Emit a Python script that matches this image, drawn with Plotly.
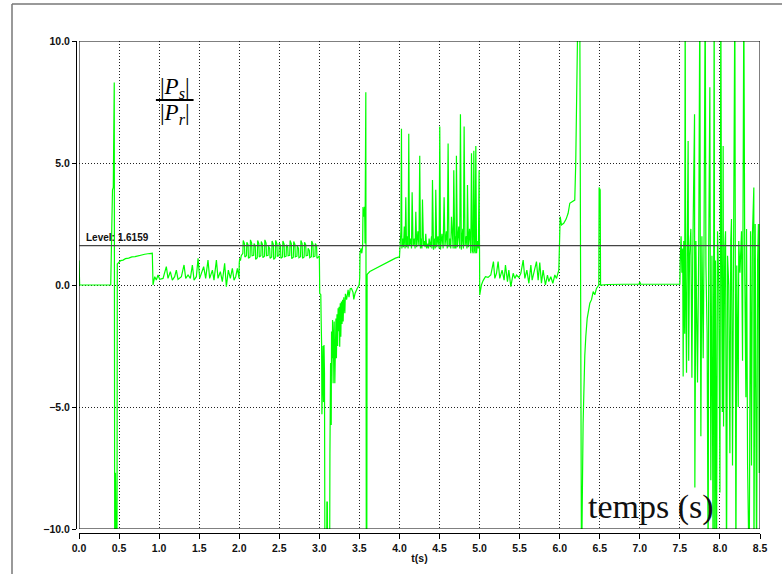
import plotly.graph_objects as go

# ---------------- data ----------------
t_a = [0.0, 0.008, 0.396, 0.402, 0.410, 0.418, 0.428, 0.436, 0.440, 0.446, 0.455, 0.468, 0.474, 0.478,
       0.49, 0.50, 0.52, 0.55, 0.58, 0.62, 0.66, 0.70, 0.74, 0.78, 0.82, 0.86, 0.90, 0.915]
v_a = [1.0, 0.0, 0.0, 1.15, 1.15, 3.9, 4.0, 8.3, 8.3, -12, -7.7, -12, -12, 0.86,
       0.9, 0.95, 1.0, 1.02, 1.08, 1.1, 1.15, 1.16, 1.2, 1.22, 1.26, 1.28, 1.3, 1.3]

t_b = [0.924, 0.945, 0.965, 0.986, 1.007, 1.049, 1.090, 1.111, 1.140, 1.165, 1.194, 1.215, 1.236, 1.278,
       1.311, 1.332, 1.361, 1.390, 1.415, 1.436, 1.465, 1.486, 1.506, 1.527, 1.556, 1.581, 1.610, 1.631,
       1.665, 1.685, 1.715, 1.735, 1.764, 1.789, 1.818, 1.839, 1.864, 1.889, 1.914, 1.935, 1.956, 1.977, 1.998]
v_b = [0.0, 0.34, 0.2, 0.41, 0.23, 0.27, 0.75, 0.27, 0.55, 0.2, 0.34, 0.61, 0.23, 0.34,
       0.82, 0.27, 0.41, 0.27, 0.82, 0.2, 0.34, 1.09, 0.27, 0.48, 0.75, 0.27, 1.02, 0.27,
       0.61, 0.2, 1.02, 0.27, 0.55, 0.14, 0.89, -0.07, 0.61, 0.27, 0.68, 0.2, 0.34, 0.68, 0.27]

t_c = [2.000, 2.006, 2.015, 2.025, 2.045,
       2.050, 2.065, 2.070, 2.090,
       2.095, 2.110, 2.115, 2.135,
       2.140, 2.155, 2.160, 2.180,
       2.185, 2.200, 2.205, 2.225,
       2.230, 2.245, 2.250, 2.270,
       2.275, 2.290, 2.295, 2.315,
       2.320, 2.335, 2.340, 2.360,
       2.365, 2.380, 2.385, 2.405,
       2.410, 2.425, 2.430, 2.450,
       2.455, 2.470, 2.475, 2.495,
       2.500, 2.515, 2.520, 2.540,
       2.545, 2.560, 2.565, 2.585,
       2.590, 2.605, 2.610, 2.630,
       2.635, 2.650, 2.655, 2.675,
       2.680, 2.695, 2.700, 2.720,
       2.725, 2.740, 2.745, 2.765,
       2.770, 2.785, 2.790, 2.810,
       2.815, 2.830, 2.835, 2.855,
       2.860, 2.875, 2.880, 2.900,
       2.905, 2.920, 2.925, 2.945,
       2.950, 2.965, 2.970, 2.990]
v_c = [0.9, 1.09, 1.0, 1.2, 1.3,
       1.82, 1.7, 1.15, 1.2,
       1.75, 1.65, 1.1, 1.15,
       1.85, 1.72, 1.2, 1.22,
       1.7, 1.6, 1.05, 1.12,
       1.82, 1.7, 1.15, 1.2,
       1.78, 1.66, 1.12, 1.18,
       1.85, 1.72, 1.2, 1.22,
       1.6, 1.5, 1.1, 1.15,
       1.8, 1.68, 1.05, 1.12,
       1.83, 1.7, 1.18, 1.2,
       1.72, 1.62, 1.1, 1.15,
       1.8, 1.68, 1.15, 1.18,
       1.65, 1.55, 1.2, 1.22,
       1.82, 1.7, 1.08, 1.14,
       1.78, 1.66, 1.15, 1.18,
       1.6, 1.5, 1.12, 1.16,
       1.82, 1.7, 1.1, 1.15,
       1.75, 1.64, 1.2, 1.22,
       1.5, 1.42, 1.12, 1.16,
       1.8, 1.68, 1.15, 1.18,
       1.7, 1.6, 1.1, 1.15]

t_d = [3.000, 3.005, 3.018, 3.022, 3.028, 3.032, 3.036, 3.040, 3.046, 3.052, 3.058, 3.064, 3.070,
       3.090, 3.094, 3.100, 3.104, 3.128, 3.132, 3.140, 3.148, 3.152, 3.160, 3.165, 3.172, 3.178,
       3.185, 3.193, 3.200, 3.207, 3.213, 3.220, 3.228, 3.234, 3.240, 3.247, 3.254, 3.261, 3.268,
       3.275, 3.283, 3.290, 3.297, 3.305, 3.318, 3.325, 3.340, 3.359, 3.370, 3.385, 3.401, 3.420,
       3.430, 3.445, 3.472, 3.497]
v_d = [1.2, -0.34, -0.4, -1.37, -2.4, -5.3, -4.0, -5.1, -2.5, -4.8, -2.46, -3.6, -12,
       -12, -8.9, -8.9, -12, -12, -6.9, -3.2, -5.74, -1.91, -3.0, -1.43, -4.03, -2.2,
       -1.5, -4.03, -1.6, -1.37, -3.0, -1.2, -2.5, -0.95, -1.9, -0.89, -2.53, -0.75, -2.12,
       -0.68, -1.6, -0.6, -1.5, -0.5, -1.16, -0.36, -0.6, -0.2, -0.5, -0.15, -0.14, -0.3,
       -0.59, -0.35, -0.14, 0.0]

t_e = [3.504, 3.508, 3.520, 3.530, 3.540, 3.545, 3.555, 3.565, 3.570, 3.575, 3.580, 3.586, 3.592,
       3.596, 3.60, 3.63, 3.66, 3.70, 3.75, 3.80, 3.85, 3.90, 3.95, 4.000]
v_e = [0.3, 1.3, 1.5, 1.3, 1.6, 3.2, 2.8, 3.2, 1.7, 7.9, 7.9, -12, -12,
       0.41, 0.45, 0.55, 0.6, 0.68, 0.75, 0.86, 0.95, 1.02, 1.1, 1.16]

t_f = [4.010, 4.018, 4.025, 4.030, 4.040, 4.050, 4.060, 4.070, 4.079, 4.088, 4.100, 4.108, 4.116,
       4.125, 4.140, 4.150, 4.158, 4.170, 4.185, 4.195, 4.204, 4.215, 4.230, 4.243, 4.253, 4.262,
       4.275, 4.280, 4.287, 4.300, 4.315, 4.320, 4.328, 4.340, 4.355, 4.362, 4.370, 4.385, 4.400,
       4.405, 4.412, 4.425, 4.440, 4.447, 4.453, 4.465, 4.480, 4.495, 4.503, 4.512, 4.530, 4.545,
       4.557, 4.568, 4.585, 4.597, 4.607, 4.618, 4.632, 4.640, 4.649, 4.660, 4.670, 4.678, 4.690,
       4.700, 4.705, 4.711, 4.722, 4.740, 4.752, 4.761, 4.772, 4.790, 4.798, 4.807, 4.818, 4.835,
       4.842, 4.849, 4.860, 4.875, 4.890, 4.899, 4.910, 4.920, 4.928, 4.938, 4.945, 4.953, 4.962,
       4.975, 4.985, 4.994, 5.000]
v_f = [1.6, 2.2, 6.4, 1.5, 1.9, 1.55, 2.4, 1.5, 3.6, 1.55, 2.0, 1.5, 6.2,
       1.6, 1.9, 1.5, 3.8, 1.6, 1.9, 1.5, 3.0, 1.55, 2.2, 1.6, 5.3, 1.5,
       1.9, 1.5, 3.5, 1.6, 1.8, 1.55, 2.1, 1.5, 1.7, 1.5, 1.9, 1.55, 2.0,
       1.5, 4.3, 1.45, 1.9, 1.5, 3.9, 1.55, 2.0, 1.5, 6.5, 1.45, 2.1, 1.5,
       3.6, 1.6, 2.2, 1.5, 5.8, 1.55, 1.9, 1.5, 2.8, 1.6, 1.5, 4.7, 1.5,
       2.0, 1.5, 5.3, 1.55, 2.4, 1.5, 7.0, 1.45, 2.3, 1.5, 6.5, 1.6, 2.0,
       1.5, 4.1, 1.55, 2.3, 1.3, 5.4, 1.4, 1.3, 5.5, 1.4, 1.3, 5.7, 1.3,
       1.8, 1.5, 4.7, 1.3]

t_g = [5.002, 5.023, 5.044, 5.073, 5.106, 5.140, 5.173, 5.190, 5.211, 5.231, 5.252, 5.281, 5.306,
       5.323, 5.348, 5.365, 5.390, 5.419, 5.440, 5.461, 5.490, 5.515, 5.544, 5.565, 5.590, 5.615,
       5.640, 5.656, 5.681, 5.710, 5.731, 5.751, 5.772, 5.793, 5.822, 5.847, 5.864, 5.889, 5.914,
       5.939, 5.960, 5.989]
v_g = [-0.41, 0.0, 0.18, 0.34, 0.31, 0.41, 0.96, 0.27, 0.48, 0.96, 0.27, 0.61, 0.2,
       0.82, 0.14, 0.61, -0.07, 0.48, 0.27, 0.41, 0.31, 0.48, 1.02, 0.27, 0.61, 0.07,
       0.82, 0.2, 0.55, 0.96, 0.2, 0.92, 0.07, 0.61, 0.0, 0.41, 0.14, 0.34, 0.07,
       0.41, 0.27, 0.61]

t_h = [6.006, 6.022, 6.050, 6.080, 6.105, 6.126, 6.150, 6.188, 6.200, 6.209, 6.230, 6.250, 6.263,
       6.272, 6.292, 6.300, 6.313, 6.326, 6.343, 6.376, 6.397, 6.418, 6.438, 6.459, 6.488, 6.492,
       6.505, 6.510, 6.600, 6.800, 6.990, 7.000, 7.010, 7.200, 7.400, 7.500]
v_h = [2.8, 2.46, 2.53, 2.7, 2.94, 3.35, 3.4, 3.48, 4.99, 6.49, 12, 12, -12,
       -12, -5.67, -4.4, -2.9, -2.1, -1.37, -0.75, -0.6, -0.27, -0.4, -0.14, 0.0, 4.0,
       3.9, 0.0, 0.02, 0.03, 0.03, 0.12, 0.03, 0.03, 0.03, 0.03]

t_i = [7.505, 7.515, 7.525, 7.535, 7.541, 7.548, 7.560, 7.566, 7.572, 7.583, 7.592, 7.603, 7.610,
       7.620, 7.637, 7.650, 7.660, 7.683, 7.687, 7.700, 7.707, 7.720, 7.735, 7.749, 7.755, 7.762,
       7.775, 7.791, 7.800, 7.816, 7.825, 7.840, 7.853, 7.860, 7.874, 7.880, 7.886, 7.900, 7.915,
       7.928, 7.936, 7.945, 7.957, 7.970, 7.985, 8.000, 8.011, 8.020, 8.030, 8.040, 8.045, 8.060,
       8.070, 8.082, 8.095, 8.110, 8.124, 8.135, 8.144, 8.157, 8.174, 8.186, 8.199, 8.210, 8.228,
       8.235, 8.250, 8.269, 8.282, 8.298, 8.310, 8.324, 8.332, 8.345, 8.365, 8.375, 8.382, 8.394,
       8.405, 8.423, 8.424, 8.440, 8.457, 8.470, 8.480, 8.490, 8.500]
v_i = [1.0, 2.0, 0.5, 1.5, -3.75, 1.8, -2.0, 12, 0.3, -3.6, 1.5, 5.9, -3.1,
       1.2, 2.3, -3.8, 1.0, 7.0, -8.3, 1.8, -0.5, -4.0, 1.5, 12, 0.5, -6.2,
       2.0, -3.0, 1.0, 12, 0.8, -2.0, -12, 1.5, 8.1, 0.5, -8.0, 1.2, -12,
       12, -12, 1.0, -12, 2.2, 0.0, -8.5, 12, 1.0, -5.2, 5.7, -5.8, 1.5,
       2.2, -12, 1.2, 0.0, -6.9, 1.8, 2.7, -7.4, 4.3, 12, -12, 0.8, -5.0,
       1.8, 0.5, 2.2, -3.1, 12, 0.5, -4.6, 2.3, -7.4, -12, 1.5, 2.2, -7.4,
       2.0, 4.0, -12, 2.5, -12, 1.0, 2.5, -7.7, 2.5]

level_value = 1.6159
x_ticks = [0.0, 0.5, 1.0, 1.5, 2.0, 2.5, 3.0, 3.5, 4.0, 4.5, 5.0, 5.5, 6.0, 6.5, 7.0, 7.5, 8.0, 8.5]
y_ticks = [-10.0, -5.0, 0.0, 5.0, 10.0]

t_all = t_a + t_b + t_c + t_d + t_e + t_f + t_g + t_h + t_i
v_all = v_a + v_b + v_c + v_d + v_e + v_f + v_g + v_h + v_i

# ---------------- figure ----------------
W, H = 782, 574
ML, MR, MT, MB = 76, 22, 41, 41
PW = W - ML - MR
PH = H - MT - MB

fig = go.Figure()
fig.add_trace(go.Scatter(x=t_all, y=v_all, mode="lines",
                         line=dict(color="#00ff00", width=1.2), showlegend=False,
                         hoverinfo="skip"))

tickfont = dict(family="Liberation Sans, Arial, sans-serif", size=10.5, color="#111", weight="bold")
fig.update_layout(
    width=W, height=H,
    margin=dict(l=ML, r=MR, t=MT, b=MB, pad=0),
    paper_bgcolor="white", plot_bgcolor="white",
    showlegend=False,
    xaxis=dict(range=[0, 8.5], domain=[3 / PW, 1], anchor="free", position=0,
               tickvals=x_ticks, tickformat=".1f", ticks="outside", ticklen=5,
               tickcolor="black", tickwidth=1, showline=True, linecolor="black", linewidth=1,
               showgrid=True, gridcolor="#222", griddash="1px,2px", gridwidth=1,
               zeroline=False, tickfont=tickfont,
               title=dict(text="t(s)", font=tickfont, standoff=2)),
    yaxis=dict(range=[-10, 10], domain=[4 / PH, 1], anchor="free", position=0,
               tickvals=y_ticks, tickformat=".1f", ticks="outside", ticklen=4,
               tickcolor="black", tickwidth=1, showline=True, linecolor="black", linewidth=1,
               showgrid=True, gridcolor="#222", griddash="1px,2px", gridwidth=1,
               zeroline=False, tickfont=tickfont),
)

# plot frame
fig.add_shape(type="rect", xref="x", yref="y", x0=0, x1=8.5, y0=-10, y1=10,
              line=dict(color="black", width=1), layer="above")
# level line
fig.add_shape(type="line", xref="x", yref="y", x0=0, x1=8.5, y0=level_value, y1=level_value,
              line=dict(color="#444", width=1.2), layer="above")
fig.add_annotation(x=0.06, y=level_value, xref="x", yref="y", text="Level: 1.6159",
                   showarrow=False, xanchor="left", yanchor="bottom", yshift=1,
                   font=dict(family="Liberation Sans, Arial, sans-serif", size=10, color="#111",
                             weight="bold"))

# fraction |Ps| / |Pr|
serif = "Liberation Serif, Times New Roman, serif"
fig.add_annotation(x=1.195, y=8.07, xref="x", yref="y",
                   text="|<i>P</i><sub><i>s</i></sub>|", showarrow=False,
                   font=dict(family=serif, size=23, color="black"))
fig.add_shape(type="line", xref="x", yref="y", x0=0.96, x1=1.43, y0=7.58, y1=7.58,
              line=dict(color="black", width=2), layer="above")
fig.add_annotation(x=1.195, y=7.0, xref="x", yref="y",
                   text="|<i>P</i><sub><i>r</i></sub>|", showarrow=False,
                   font=dict(family=serif, size=23, color="black"))

# temps (s)
fig.add_annotation(x=7.14, y=-9.1, xref="x", yref="y", text="temps (s)", showarrow=False,
                   font=dict(family=serif, size=34, color="#111"))

# outer gray frame
fx = (12 - ML) / PW
fy = (H - MB - 4) / PH
fig.add_shape(type="line", xref="paper", yref="paper", x0=fx, x1=fx, y0=-0.2, y1=fy,
              line=dict(color="#777", width=1.5))
fig.add_shape(type="line", xref="paper", yref="paper", x0=fx, x1=1.2, y0=fy, y1=fy,
              line=dict(color="#777", width=1.5))

fig.write_html("out.html", config={"displayModeBar": False},
               post_script="document.body.style.margin='0';document.body.style.padding='0';")
